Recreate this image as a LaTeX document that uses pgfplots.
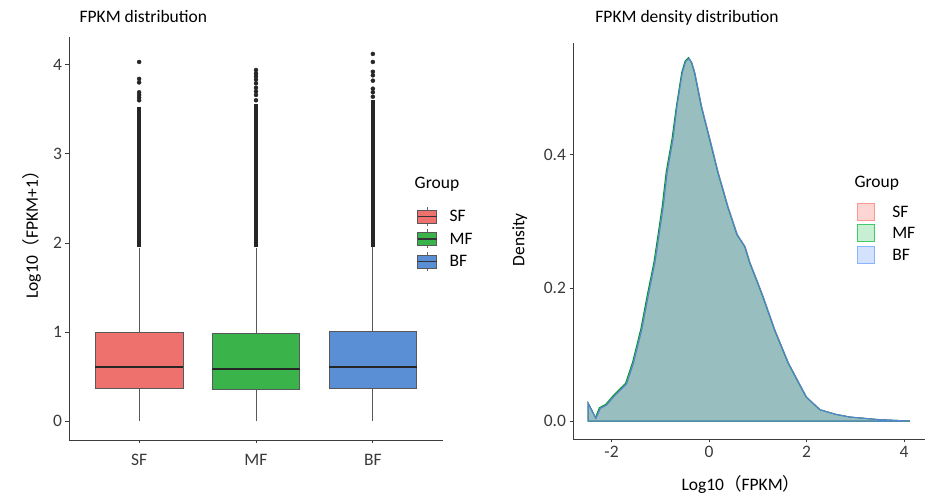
\documentclass[border=0pt]{standalone}
\usepackage{fontspec}
\setmainfont{Carlito}
\newfontfamily\cjk{Noto Sans CJK SC}
\usepackage{pgfplots}
\usepackage{pgfplotstable}
\pgfplotsset{compat=1.18}
\usepgfplotslibrary{statistics}

\definecolor{SFred}{HTML}{EE716E}
\definecolor{MFgreen}{HTML}{3AB44A}
\definecolor{BFblue}{HTML}{5A8FD6}
\definecolor{axgray}{HTML}{3C3C3C}
\definecolor{tickgray}{HTML}{3A3A3A}
\definecolor{dotgray}{HTML}{262626}
\definecolor{SFden}{HTML}{F8766D}
\definecolor{MFden}{HTML}{00BA38}
\definecolor{BFden}{HTML}{619CFF}

\pgfplotsset{
  ggaxis/.style={
    scale only axis, clip=false,
    axis x line*=bottom, axis y line*=left,
    axis line style={axgray, line width=0.9pt},
    tick align=outside, major tick length=3.5pt,
    tick style={tickgray, line width=0.8pt},
    tick label style={text=tickgray},
    font=\fontsize{17.5}{20}\selectfont,
    /pgf/number format/assume math mode=true,
    legend cell align=left,
  },
  boxkey/.style={legend image code/.code={
    \draw[draw=black!60, fill=none, line width=0.7pt] (9.5pt,-9.5pt) -- (9.5pt,9.5pt);
    \draw[fill=#1, draw=black!65, line width=0.7pt] (0pt,-6.5pt) rectangle (19pt,6.5pt);
    \draw[black!80, line width=1.2pt] (0pt,0pt) -- (19pt,0pt);
    \path[draw=none, fill=none] (0pt,0pt) -- (32pt,0pt);
  }},
  dkey/.style n args={2}{legend image code/.code={
    \draw[fill=#1, draw=#2, line width=1pt] (0.5pt,-8.5pt) rectangle (17.5pt,8.5pt);
    \path[draw=none, fill=none] (0pt,0pt) -- (35pt,0pt);
  }},
}

% density curves, x = log10(FPKM), y = density
\pgfplotstableread{
x y
-2.48 0.027
-2.40 0.015
-2.32 0.004
-2.23 0.019
-2.10 0.024
-1.96 0.036
-1.69 0.056
-1.55 0.087
-1.38 0.137
-1.25 0.187
-1.11 0.238
-1.02 0.282
-0.94 0.322
-0.86 0.373
-0.74 0.423
-0.66 0.472
-0.55 0.523
-0.48 0.540
-0.41 0.545
-0.35 0.538
-0.29 0.523
-0.15 0.472
0.02 0.423
0.19 0.373
0.39 0.322
0.58 0.280
0.74 0.262
0.84 0.238
0.98 0.212
1.11 0.187
1.35 0.137
1.63 0.087
2.00 0.036
2.28 0.017
2.60 0.010
2.89 0.006
3.50 0.002
4.12 0.000
}\denSF

\pgfplotstableread{
x y
-2.48 0.027
-2.40 0.016
-2.33 0.005
-2.25 0.020
-2.12 0.025
-1.98 0.037
-1.71 0.057
-1.57 0.088
-1.40 0.138
-1.27 0.188
-1.13 0.239
-1.04 0.283
-0.96 0.323
-0.88 0.374
-0.76 0.424
-0.67 0.473
-0.56 0.524
-0.49 0.541
-0.42 0.546
-0.36 0.538
-0.30 0.523
-0.16 0.472
0.01 0.423
0.18 0.373
0.38 0.322
0.57 0.280
0.73 0.262
0.83 0.238
0.97 0.212
1.10 0.187
1.34 0.137
1.62 0.087
1.99 0.036
2.27 0.017
2.60 0.010
2.89 0.006
3.50 0.002
4.12 0.000
}\denMF

\pgfplotstableread{
x y
-2.48 0.027
-2.40 0.015
-2.32 0.004
-2.23 0.019
-2.10 0.024
-1.96 0.036
-1.69 0.056
-1.55 0.087
-1.38 0.137
-1.25 0.187
-1.11 0.238
-1.02 0.282
-0.94 0.322
-0.86 0.373
-0.74 0.423
-0.66 0.472
-0.55 0.523
-0.48 0.540
-0.41 0.545
-0.35 0.538
-0.29 0.523
-0.15 0.472
0.02 0.423
0.19 0.373
0.39 0.322
0.58 0.280
0.74 0.262
0.84 0.238
0.98 0.212
1.11 0.187
1.35 0.137
1.63 0.087
2.00 0.036
2.28 0.017
2.60 0.010
2.89 0.006
3.50 0.002
4.12 0.000
}\denBF

\begin{document}
\begin{tikzpicture}[font=\fontsize{17.5}{20}\selectfont]
\path[use as bounding box] (0pt,0pt) rectangle (935pt,497pt);

% left: boxplot
\begin{axis}[ggaxis,
  at={(69pt,57pt)}, anchor=south west,
  width=374pt, height=403pt,
  xmin=0.4, xmax=3.6, ymin=-0.21, ymax=4.31,
  xtick={1,2,3}, xticklabels={SF,MF,BF},
  xticklabel style={yshift=-7pt},
  ytick={0,1,2,3,4},
  boxplot/draw direction=y,
  boxplot/every median/.style={draw=black!85, line width=1.8pt},
  boxplot/every whisker/.style={draw=black!65, line width=1pt},
  ylabel={Log10{\cjk （}FPKM+1{\cjk ）}},
  ylabel style={at={(axis description cs:-0.099,0.52)}, anchor=center, text=black},
  legend style={draw=none, fill=none, at={(0.930,0.583)}, anchor=north west,
    inner sep=0pt, nodes={inner sep=0pt, text height=16.5pt, text depth=6pt, text=black}},
]
\addplot[forget plot, fill=SFred, draw=black!65, line width=0.8pt,
  boxplot prepared={draw position=1, lower whisker=0, lower quartile=0.37,
    median=0.61, upper quartile=1.00, upper whisker=1.94,
    box extend=0.75, whisker extend=0}] coordinates {};
\addplot[forget plot, fill=MFgreen, draw=black!65, line width=0.8pt,
  boxplot prepared={draw position=2, lower whisker=0, lower quartile=0.36,
    median=0.59, upper quartile=0.99, upper whisker=1.94,
    box extend=0.75, whisker extend=0}] coordinates {};
\addplot[forget plot, fill=BFblue, draw=black!65, line width=0.8pt,
  boxplot prepared={draw position=3, lower whisker=0, lower quartile=0.37,
    median=0.61, upper quartile=1.01, upper whisker=1.95,
    box extend=0.75, whisker extend=0}] coordinates {};

% outliers: dense run drawn as a thick segment, sparse ones as dots
\addplot[forget plot, dotgray, line width=4pt] coordinates {(1,1.95) (1,3.52)};
\addplot[forget plot, dotgray, line width=4pt] coordinates {(2,1.95) (2,3.56)};
\addplot[forget plot, dotgray, line width=4pt] coordinates {(3,1.96) (3,3.60)};
\addplot[forget plot, only marks, mark=*, mark size=2pt, dotgray] coordinates {
  (1,3.60) (1,3.63) (1,3.66) (1,3.69) (1,3.80) (1,3.84) (1,4.03)
  (2,3.60) (2,3.66) (2,3.70) (2,3.74) (2,3.79) (2,3.83) (2,3.87) (2,3.90) (2,3.94)
  (3,3.64) (3,3.69) (3,3.73) (3,3.82) (3,3.88) (3,3.92) (3,4.03) (3,4.12)
};

\addlegendimage{boxkey=SFred}\addlegendentry{SF}
\addlegendimage{boxkey=MFgreen}\addlegendentry{MF}
\addlegendimage{boxkey=BFblue}\addlegendentry{BF}

\node[anchor=base west, text=black] at (axis description cs:0.915,0.623) {Group};
\node[anchor=base west, text=black] at (axis description cs:0.019,1.035) {FPKM distribution};
\end{axis}

% right: density
\begin{axis}[ggaxis,
  at={(573pt,58pt)}, anchor=south west,
  width=352pt, height=396pt,
  xmin=-2.79, xmax=4.43, ymin=-0.027, ymax=0.568,
  xtick={-2,0,2,4}, ytick={0,0.2,0.4},
  yticklabel style={/pgf/number format/.cd, fixed, fixed zerofill, precision=1},
  ylabel={Density},
  ylabel style={at={(axis description cs:-0.151,0.503)}, anchor=center, text=black},
  xlabel={Log10{\cjk （}FPKM{\cjk ）}},
  xlabel style={at={(axis description cs:0.477,-0.116)}, anchor=center, text=black},
  legend style={draw=none, fill=none, at={(0.807,0.601)}, anchor=north west,
    inner sep=0pt, nodes={inner sep=0pt, text height=16pt, text depth=5.5pt, text=black}},
]
\addplot[forget plot, fill=SFden, fill opacity=0.3, draw=SFden, line width=1pt] table {\denSF} \closedcycle;
\addplot[forget plot, fill=MFden, fill opacity=0.3, draw=MFden!80!black, line width=1pt] table {\denMF} \closedcycle;
\addplot[forget plot, fill=BFden, fill opacity=0.3, draw=BFden!85!black, line width=1pt] table {\denBF} \closedcycle;

\addlegendimage{dkey={SFden!30}{SFden!75}}\addlegendentry{SF}
\addlegendimage{dkey={MFden!22}{MFden!75}}\addlegendentry{MF}
\addlegendimage{dkey={BFden!28}{BFden!75}}\addlegendentry{BF}

\node[anchor=base west, text=black] at (axis description cs:0.790,0.634) {Group};
\node[anchor=base, text=black] at (axis description cs:0.324,1.053) {FPKM density distribution};
\end{axis}
\end{tikzpicture}
\end{document}
